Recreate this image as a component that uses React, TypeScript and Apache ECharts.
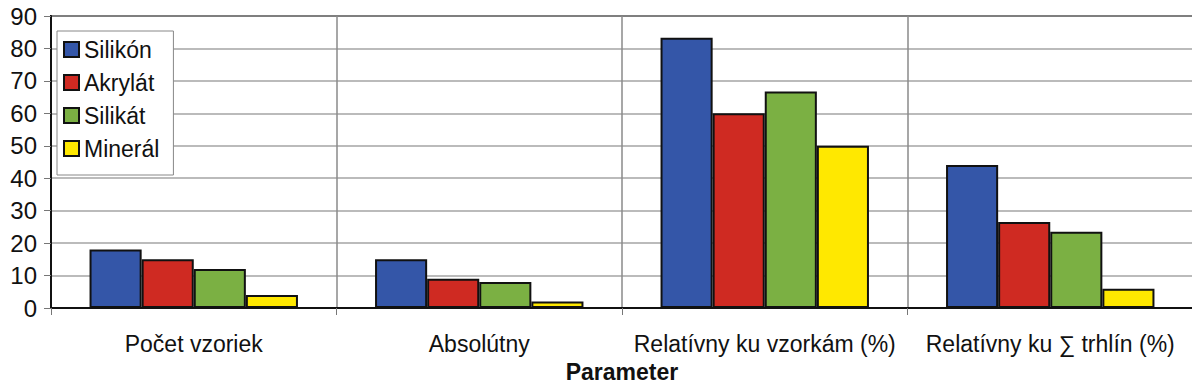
import React, { useEffect, useRef } from "react";
import * as echarts from "echarts";

const categories = ["Počet vzoriek", "Absolútny", "Relatívny ku vzorkám (%)", "Relatívny ku ∑ trhlín (%)"];
const silikon = [18, 15, 83.3, 44.1];
const akrylat = [15, 9, 60, 26.5];
const silikat = [12, 8, 66.7, 23.5];
const mineral = [4, 2, 50, 5.9];
const seriesNames = ["Silikón", "Akrylát", "Silikát", "Minerál"];
const seriesColors = ["#3456A8", "#CF2A22", "#7BB043", "#FFE800"];

const FONT = "'Liberation Sans', Arial, sans-serif";

export default function App() {
  const ref = useRef<HTMLDivElement>(null);
  useEffect(() => {
    if (!ref.current) return;
    const chart = echarts.init(ref.current, null, { renderer: "svg" });
    const data = [silikon, akrylat, silikat, mineral];
    chart.setOption({
      animation: false,
      backgroundColor: "#ffffff",
      textStyle: { fontFamily: FONT },
      grid: {
        left: 51,
        right: 7,
        top: 16,
        bottom: 81,
        show: true,
        borderColor: "#111",
        borderWidth: 2,
        backgroundColor: "transparent",
        containLabel: false,
        outerBoundsMode: "none",
      },
      legend: {
        orient: "vertical",
        left: 57,
        top: 31,
        backgroundColor: "#fff",
        borderColor: "#888",
        borderWidth: 1,
        padding: [7, 14, 15, 6],
        itemWidth: 15,
        itemHeight: 15,
        itemGap: 10,
        icon: "rect",
        textStyle: { fontFamily: FONT, fontSize: 23, color: "#111", lineHeight: 22 },
        data: seriesNames,
      },
      xAxis: {
        type: "category",
        data: categories,
        name: "Parameter",
        nameLocation: "middle",
        nameGap: 52,
        nameTextStyle: { fontFamily: FONT, fontSize: 23, fontWeight: "bold", color: "#111" },
        axisLine: { lineStyle: { color: "#111", width: 2 } },
        axisTick: { show: true, length: 7, lineStyle: { color: "#777" } },
        axisLabel: { fontFamily: FONT, fontSize: 23, color: "#111", margin: 24, interval: 0 },
        splitLine: { show: true, lineStyle: { color: "#8a8a8a", width: 1.5 } },
      },
      yAxis: {
        type: "value",
        min: 0,
        max: 90,
        interval: 10,
        axisLine: { show: true, lineStyle: { color: "#111", width: 2 } },
        axisTick: { show: true, length: 7, lineStyle: { color: "#777" } },
        axisLabel: { fontFamily: FONT, fontSize: 24, color: "#111", margin: 14 },
        splitLine: { show: true, lineStyle: { color: "#a5a5a5", width: 1.5 } },
      },
      series: seriesNames.map((name, i) => ({
        name,
        type: "bar",
        data: data[i],
        barGap: "0%",
        barCategoryGap: "27%",
        itemStyle: { color: seriesColors[i], borderColor: "#111", borderWidth: 2 },
      })),
    });
    return () => chart.dispose();
  }, []);
  return <div ref={ref} style={{ width: 1200, height: 389, margin: -8 }} />;
}
